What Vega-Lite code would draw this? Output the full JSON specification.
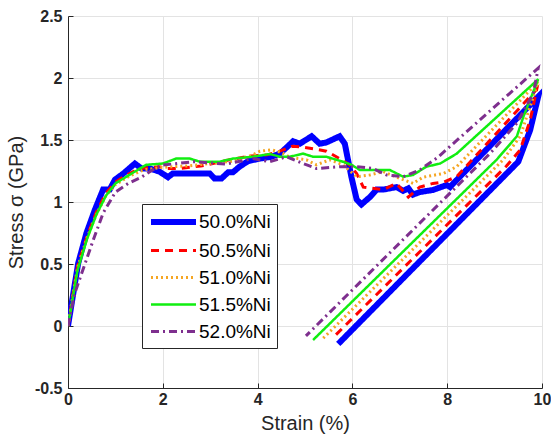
{
  "$schema": "https://vega.github.io/schema/vega-lite/v6.json",
  "width": 474,
  "height": 372,
  "autosize": {"type": "none"},
  "padding": {"left": 68, "top": 16, "right": 9, "bottom": 53},
  "background": "white",
  "config": {
    "view": {"stroke": null},
    "font": "Liberation Sans",
    "axis": {
      "domainColor": "#262626",
      "domainWidth": 1,
      "tickColor": "#262626",
      "tickSize": -5,
      "labelFlush": false,
      "labelOverlap": false,
      "gridColor": "#E3E3E3",
      "gridWidth": 1,
      "labelFont": "Liberation Sans",
      "labelFontWeight": "bold",
      "labelFontSize": 16,
      "labelColor": "#262626",
      "titleFont": "Liberation Sans",
      "titleFontWeight": "normal",
      "titleFontSize": 20,
      "titleColor": "#262626"
    }
  },
  "datasets": {
    "pts": [
      {"s":"50.0%Ni","i":1,"x":0,"y":0},{"s":"50.0%Ni","i":2,"x":0.215,"y":0.506},{"s":"50.0%Ni","i":3,"x":0.39,"y":0.75},{"s":"50.0%Ni","i":4,"x":0.57,"y":0.94},{"s":"50.0%Ni","i":5,"x":0.74,"y":1.1},{"s":"50.0%Ni","i":6,"x":0.88,"y":1.1},{"s":"50.0%Ni","i":7,"x":0.99,"y":1.18},{"s":"50.0%Ni","i":8,"x":1.17,"y":1.23},{"s":"50.0%Ni","i":9,"x":1.41,"y":1.31},{"s":"50.0%Ni","i":10,"x":1.55,"y":1.27},{"s":"50.0%Ni","i":11,"x":1.73,"y":1.27},{"s":"50.0%Ni","i":12,"x":1.93,"y":1.245},{"s":"50.0%Ni","i":13,"x":2.11,"y":1.2},{"s":"50.0%Ni","i":14,"x":2.21,"y":1.23},{"s":"50.0%Ni","i":15,"x":2.99,"y":1.23},{"s":"50.0%Ni","i":16,"x":3.09,"y":1.19},{"s":"50.0%Ni","i":17,"x":3.24,"y":1.19},{"s":"50.0%Ni","i":18,"x":3.38,"y":1.24},{"s":"50.0%Ni","i":19,"x":3.48,"y":1.24},{"s":"50.0%Ni","i":20,"x":3.62,"y":1.285},{"s":"50.0%Ni","i":21,"x":3.8,"y":1.33},{"s":"50.0%Ni","i":22,"x":4.04,"y":1.35},{"s":"50.0%Ni","i":23,"x":4.29,"y":1.365},{"s":"50.0%Ni","i":24,"x":4.47,"y":1.39},{"s":"50.0%Ni","i":25,"x":4.64,"y":1.45},{"s":"50.0%Ni","i":26,"x":4.75,"y":1.49},{"s":"50.0%Ni","i":27,"x":4.89,"y":1.47},{"s":"50.0%Ni","i":28,"x":5.14,"y":1.53},{"s":"50.0%Ni","i":29,"x":5.31,"y":1.47},{"s":"50.0%Ni","i":30,"x":5.45,"y":1.48},{"s":"50.0%Ni","i":31,"x":5.73,"y":1.53},{"s":"50.0%Ni","i":32,"x":5.84,"y":1.47},{"s":"50.0%Ni","i":33,"x":5.98,"y":1.2},{"s":"50.0%Ni","i":34,"x":6.09,"y":1.02},{"s":"50.0%Ni","i":35,"x":6.19,"y":0.98},{"s":"50.0%Ni","i":36,"x":6.37,"y":1.04},{"s":"50.0%Ni","i":37,"x":6.51,"y":1.1},{"s":"50.0%Ni","i":38,"x":6.65,"y":1.1},{"s":"50.0%Ni","i":39,"x":6.93,"y":1.12},{"s":"50.0%Ni","i":40,"x":7.07,"y":1.09},{"s":"50.0%Ni","i":41,"x":7.18,"y":1.11},{"s":"50.0%Ni","i":42,"x":7.28,"y":1.06},{"s":"50.0%Ni","i":43,"x":7.42,"y":1.08},{"s":"50.0%Ni","i":44,"x":7.7,"y":1.097},{"s":"50.0%Ni","i":45,"x":7.99,"y":1.137},{"s":"50.0%Ni","i":46,"x":8.06,"y":1.12},{"s":"50.0%Ni","i":47,"x":8.13,"y":1.15},{"s":"50.0%Ni","i":48,"x":9.92,"y":1.85},{"s":"50.0%Ni","i":49,"x":9.75,"y":1.58},{"s":"50.0%Ni","i":50,"x":9.5,"y":1.325},{"s":"50.0%Ni","i":51,"x":5.7,"y":-0.145},

      {"s":"50.5%Ni","i":1,"x":0,"y":0},{"s":"50.5%Ni","i":2,"x":0.2,"y":0.48},{"s":"50.5%Ni","i":3,"x":0.4,"y":0.72},{"s":"50.5%Ni","i":4,"x":0.6,"y":0.92},{"s":"50.5%Ni","i":5,"x":0.8,"y":1.07},{"s":"50.5%Ni","i":6,"x":1.0,"y":1.16},{"s":"50.5%Ni","i":7,"x":1.2,"y":1.21},{"s":"50.5%Ni","i":8,"x":1.5,"y":1.27},{"s":"50.5%Ni","i":9,"x":1.93,"y":1.285},{"s":"50.5%Ni","i":10,"x":2.07,"y":1.27},{"s":"50.5%Ni","i":11,"x":2.35,"y":1.27},{"s":"50.5%Ni","i":12,"x":2.8,"y":1.29},{"s":"50.5%Ni","i":13,"x":3.41,"y":1.34},{"s":"50.5%Ni","i":14,"x":3.83,"y":1.37},{"s":"50.5%Ni","i":15,"x":4.2,"y":1.38},{"s":"50.5%Ni","i":16,"x":4.47,"y":1.41},{"s":"50.5%Ni","i":17,"x":4.74,"y":1.45},{"s":"50.5%Ni","i":18,"x":4.89,"y":1.446},{"s":"50.5%Ni","i":19,"x":5.17,"y":1.43},{"s":"50.5%Ni","i":20,"x":5.45,"y":1.41},{"s":"50.5%Ni","i":21,"x":5.73,"y":1.35},{"s":"50.5%Ni","i":22,"x":5.94,"y":1.3},{"s":"50.5%Ni","i":23,"x":6.09,"y":1.23},{"s":"50.5%Ni","i":24,"x":6.23,"y":1.12},{"s":"50.5%Ni","i":25,"x":6.65,"y":1.1},{"s":"50.5%Ni","i":26,"x":6.93,"y":1.15},{"s":"50.5%Ni","i":27,"x":7.18,"y":1.04},{"s":"50.5%Ni","i":28,"x":7.42,"y":1.12},{"s":"50.5%Ni","i":29,"x":7.7,"y":1.15},{"s":"50.5%Ni","i":30,"x":7.92,"y":1.16},{"s":"50.5%Ni","i":31,"x":8.2,"y":1.204},{"s":"50.5%Ni","i":32,"x":9.89,"y":1.91},{"s":"50.5%Ni","i":33,"x":9.75,"y":1.66},{"s":"50.5%Ni","i":34,"x":9.54,"y":1.42},{"s":"50.5%Ni","i":35,"x":9.25,"y":1.29},{"s":"50.5%Ni","i":36,"x":5.6,"y":-0.09},

      {"s":"51.0%Ni","i":1,"x":0,"y":0},{"s":"51.0%Ni","i":2,"x":0.2,"y":0.47},{"s":"51.0%Ni","i":3,"x":0.4,"y":0.71},{"s":"51.0%Ni","i":4,"x":0.6,"y":0.9},{"s":"51.0%Ni","i":5,"x":0.8,"y":1.05},{"s":"51.0%Ni","i":6,"x":1.0,"y":1.14},{"s":"51.0%Ni","i":7,"x":1.3,"y":1.21},{"s":"51.0%Ni","i":8,"x":1.6,"y":1.26},{"s":"51.0%Ni","i":9,"x":2.0,"y":1.28},{"s":"51.0%Ni","i":10,"x":2.5,"y":1.29},{"s":"51.0%Ni","i":11,"x":3.0,"y":1.31},{"s":"51.0%Ni","i":12,"x":3.5,"y":1.33},{"s":"51.0%Ni","i":13,"x":3.9,"y":1.38},{"s":"51.0%Ni","i":14,"x":4.05,"y":1.41},{"s":"51.0%Ni","i":15,"x":4.3,"y":1.42},{"s":"51.0%Ni","i":16,"x":4.5,"y":1.4},{"s":"51.0%Ni","i":17,"x":4.68,"y":1.36},{"s":"51.0%Ni","i":18,"x":5.03,"y":1.34},{"s":"51.0%Ni","i":19,"x":5.24,"y":1.3},{"s":"51.0%Ni","i":20,"x":5.52,"y":1.34},{"s":"51.0%Ni","i":21,"x":5.8,"y":1.3},{"s":"51.0%Ni","i":22,"x":6.09,"y":1.204},{"s":"51.0%Ni","i":23,"x":6.37,"y":1.218},{"s":"51.0%Ni","i":24,"x":6.65,"y":1.245},{"s":"51.0%Ni","i":25,"x":7.0,"y":1.19},{"s":"51.0%Ni","i":26,"x":7.28,"y":1.15},{"s":"51.0%Ni","i":27,"x":7.49,"y":1.2},{"s":"51.0%Ni","i":28,"x":7.92,"y":1.23},{"s":"51.0%Ni","i":29,"x":8.2,"y":1.285},{"s":"51.0%Ni","i":30,"x":9.92,"y":1.97},{"s":"51.0%Ni","i":31,"x":9.75,"y":1.77},{"s":"51.0%Ni","i":32,"x":9.54,"y":1.53},{"s":"51.0%Ni","i":33,"x":9.18,"y":1.34},{"s":"51.0%Ni","i":34,"x":5.38,"y":-0.1},

      {"s":"51.5%Ni","i":1,"x":0,"y":0},{"s":"51.5%Ni","i":2,"x":0.2,"y":0.45},{"s":"51.5%Ni","i":3,"x":0.4,"y":0.7},{"s":"51.5%Ni","i":4,"x":0.6,"y":0.9},{"s":"51.5%Ni","i":5,"x":0.8,"y":1.05},{"s":"51.5%Ni","i":6,"x":1.0,"y":1.15},{"s":"51.5%Ni","i":7,"x":1.3,"y":1.22},{"s":"51.5%Ni","i":8,"x":1.65,"y":1.3},{"s":"51.5%Ni","i":9,"x":2.0,"y":1.31},{"s":"51.5%Ni","i":10,"x":2.28,"y":1.35},{"s":"51.5%Ni","i":11,"x":2.57,"y":1.35},{"s":"51.5%Ni","i":12,"x":2.78,"y":1.325},{"s":"51.5%Ni","i":13,"x":3.2,"y":1.325},{"s":"51.5%Ni","i":14,"x":3.48,"y":1.35},{"s":"51.5%Ni","i":15,"x":3.9,"y":1.365},{"s":"51.5%Ni","i":16,"x":4.26,"y":1.387},{"s":"51.5%Ni","i":17,"x":4.47,"y":1.365},{"s":"51.5%Ni","i":18,"x":4.68,"y":1.365},{"s":"51.5%Ni","i":19,"x":4.96,"y":1.39},{"s":"51.5%Ni","i":20,"x":5.17,"y":1.365},{"s":"51.5%Ni","i":21,"x":5.45,"y":1.365},{"s":"51.5%Ni","i":22,"x":5.8,"y":1.325},{"s":"51.5%Ni","i":23,"x":5.98,"y":1.3},{"s":"51.5%Ni","i":24,"x":6.16,"y":1.258},{"s":"51.5%Ni","i":25,"x":6.37,"y":1.258},{"s":"51.5%Ni","i":26,"x":6.79,"y":1.258},{"s":"51.5%Ni","i":27,"x":7.07,"y":1.204},{"s":"51.5%Ni","i":28,"x":7.28,"y":1.218},{"s":"51.5%Ni","i":29,"x":7.56,"y":1.285},{"s":"51.5%Ni","i":30,"x":7.85,"y":1.31},{"s":"51.5%Ni","i":31,"x":8.2,"y":1.39},{"s":"51.5%Ni","i":32,"x":9.92,"y":1.99},{"s":"51.5%Ni","i":33,"x":9.61,"y":1.69},{"s":"51.5%Ni","i":34,"x":9.47,"y":1.53},{"s":"51.5%Ni","i":35,"x":9.04,"y":1.34},{"s":"51.5%Ni","i":36,"x":5.17,"y":-0.113},

      {"s":"52.0%Ni","i":1,"x":0,"y":0},{"s":"52.0%Ni","i":2,"x":0.14,"y":0.26},{"s":"52.0%Ni","i":3,"x":0.285,"y":0.42},{"s":"52.0%Ni","i":4,"x":0.53,"y":0.69},{"s":"52.0%Ni","i":5,"x":0.74,"y":0.91},{"s":"52.0%Ni","i":6,"x":1.0,"y":1.08},{"s":"52.0%Ni","i":7,"x":1.27,"y":1.15},{"s":"52.0%Ni","i":8,"x":1.55,"y":1.2},{"s":"52.0%Ni","i":9,"x":1.83,"y":1.27},{"s":"52.0%Ni","i":10,"x":2.0,"y":1.298},{"s":"52.0%Ni","i":11,"x":2.64,"y":1.325},{"s":"52.0%Ni","i":12,"x":3.34,"y":1.306},{"s":"52.0%Ni","i":13,"x":3.9,"y":1.35},{"s":"52.0%Ni","i":14,"x":4.26,"y":1.325},{"s":"52.0%Ni","i":15,"x":4.61,"y":1.365},{"s":"52.0%Ni","i":16,"x":4.96,"y":1.31},{"s":"52.0%Ni","i":17,"x":5.24,"y":1.27},{"s":"52.0%Ni","i":18,"x":5.73,"y":1.285},{"s":"52.0%Ni","i":19,"x":6.09,"y":1.285},{"s":"52.0%Ni","i":20,"x":6.44,"y":1.27},{"s":"52.0%Ni","i":21,"x":6.72,"y":1.218},{"s":"52.0%Ni","i":22,"x":7.07,"y":1.204},{"s":"52.0%Ni","i":23,"x":7.42,"y":1.258},{"s":"52.0%Ni","i":24,"x":7.8,"y":1.36},{"s":"52.0%Ni","i":25,"x":9.92,"y":2.08},{"s":"52.0%Ni","i":26,"x":9.82,"y":1.88},{"s":"52.0%Ni","i":27,"x":9.47,"y":1.635},{"s":"52.0%Ni","i":28,"x":8.9,"y":1.39},{"s":"52.0%Ni","i":29,"x":5.02,"y":-0.08}
    ]
  },
  "data": {"name": "pts"},
  "mark": {"type": "line", "clip": true},
  "encoding": {
    "x": {
      "field": "x", "type": "quantitative",
      "scale": {"domain": [0, 10], "nice": false},
      "axis": {"title": "Strain (%)", "values": [0, 2, 4, 6, 8, 10], "labelPadding": 8, "titlePadding": 6, "labelExpr": "'' + datum.value"}
    },
    "y": {
      "field": "y", "type": "quantitative",
      "scale": {"domain": [-0.5, 2.5], "nice": false, "zero": false},
      "axis": {"title": "Stress σ (GPa)", "values": [-0.5, 0, 0.5, 1, 1.5, 2, 2.5], "labelPadding": 11, "titlePadding": 8, "labelExpr": "'' + datum.value"}
    },
    "order": {"field": "i"},
    "color": {
      "field": "s", "type": "nominal",
      "scale": {"domain": ["50.0%Ni", "50.5%Ni", "51.0%Ni", "51.5%Ni", "52.0%Ni"], "range": ["#0000FF", "#FF0000", "#F5A623", "#11EE11", "#7E2F8E"]},
      "legend": {
        "title": null, "orient": "none", "legendX": 74, "legendY": 188,
        "symbolType": "M-1,0H4", "symbolSize": 324,
        "labelFont": "Liberation Sans", "labelFontSize": 19, "labelColor": "#000000",
        "labelOffset": 27, "rowPadding": 6, "padding": 6,
        "strokeColor": "#262626", "fillColor": "white"
      }
    },
    "strokeDash": {
      "field": "s", "type": "nominal",
      "scale": {"domain": ["50.0%Ni", "50.5%Ni", "51.0%Ni", "51.5%Ni", "52.0%Ni"], "range": [[1, 0], [8, 6], [2, 3], [1, 0], [8, 4, 2, 4]]}
    },
    "strokeWidth": {
      "field": "s", "type": "nominal",
      "scale": {"type": "ordinal", "domain": ["50.0%Ni", "50.5%Ni", "51.0%Ni", "51.5%Ni", "52.0%Ni"], "range": [6, 3, 3, 2.5, 3]}
    }
  }
}
